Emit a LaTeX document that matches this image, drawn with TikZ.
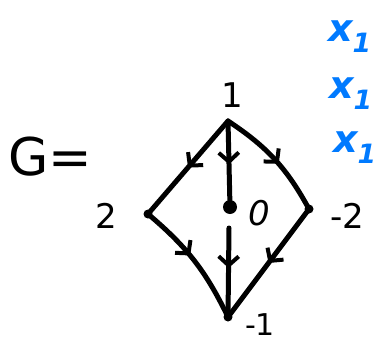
\documentclass[tikz,border=0pt]{standalone}
\usepackage{fontspec}
\setmainfont{DejaVu Sans}
\usetikzlibrary{arrows.meta,decorations.markings}
\definecolor{inkblue}{RGB}{0,122,255}
\tikzset{
  ink/.style={line width=5pt, line cap=round, line join=round, black},
  midarrow/.style={postaction={decorate, decoration={markings,
      mark=at position #1 with {\arrow[line width=4pt]{Straight Barb[length=9pt,width=20pt]}}}}},
  midarrow/.default=0.5,
  lbl/.style={font=\fontsize{34}{36}\selectfont, inner sep=0pt},
  bluelbl/.style={font=\fontsize{38}{40}\selectfont\itshape\bfseries, text=inkblue, inner sep=0pt, anchor=west},
  vdot/.style={circle, fill=black, inner sep=0pt, minimum size=9pt},
  bigdot/.style={circle, fill=black, inner sep=0pt, minimum size=14pt}
}
\begin{document}
\begin{tikzpicture}[x=1pt,y=-1pt]
\useasboundingbox (0,0) rectangle (375,343);
\clip (0,0) rectangle (375,343);
% vertices
\coordinate (v1) at (228,121);
\coordinate (v2) at (148,214);
\node[bigdot] (v0) at (230,207) {};
\coordinate (v0b) at (229,228);
\coordinate (vm2) at (309,209);
\coordinate (vm1) at (228,317);
\node[vdot] at (v2) {};
\node[vdot] at (vm2) {};
\node[vdot] at (vm1) {};
% edges
\draw[ink, midarrow=0.5] (v1) -- (v2);
\draw[ink, midarrow=0.55] (v1) -- (v0);
\draw[ink, midarrow=0.55] (v1) to[bend left=14] (vm2);
\draw[ink, midarrow=0.45] (v2) to[bend left=12] (vm1);
\draw[ink, midarrow=0.45] (v0b) -- (vm1);
\draw[ink, midarrow=0.5] (vm2) -- (vm1);
% labels
\node[lbl] (l1) at (232,95) {1};
\node[lbl] (l2) at (106,216) {2};
\node[lbl, font=\fontsize{34}{36}\selectfont\itshape] (l0) at (259,213) {0};
\node[lbl] (lm2) at (347,216) {-2};
\node[lbl, font=\fontsize{30}{32}\selectfont] (lm1) at (260,325) {-1};
\node[lbl, font=\fontsize{52}{54}\selectfont] (G) at (50,157) {G=};
% blue notes
\node[bluelbl] (b1) at (328,37) {x\textsubscript{1}};
\node[bluelbl] (b2) at (329,94) {x\textsubscript{1}};
\node[bluelbl] (b3) at (333,148) {x\textsubscript{1}};
\end{tikzpicture}
\end{document}
